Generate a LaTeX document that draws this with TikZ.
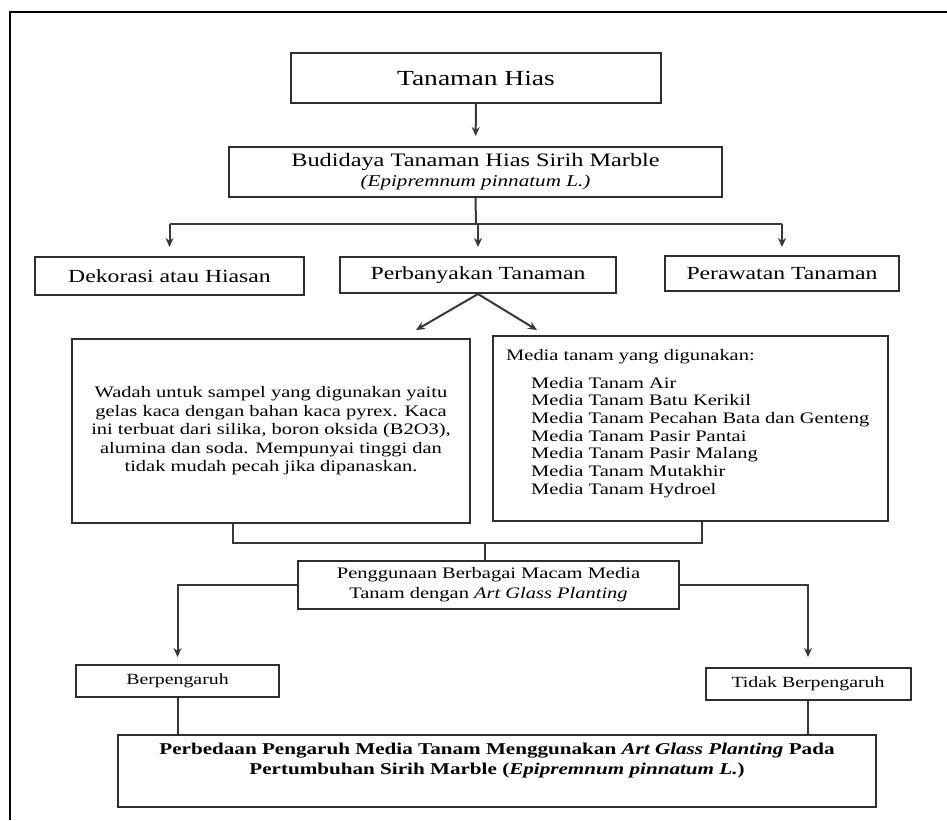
\documentclass[tikz,border=0pt]{standalone}
\usepackage{fontspec}
\setmainfont{Liberation Serif}[FakeStretch=1.28]
\usetikzlibrary{arrows.meta,calc}
\definecolor{boxc}{HTML}{2E2E2E}
\definecolor{linec}{HTML}{383838}
\begin{document}
\begin{tikzpicture}[x=1pt,y=-1pt,
  box/.style={draw=boxc,line width=2pt,inner sep=0pt,rectangle},
  conn/.style={draw=linec,line width=2pt},
  arr/.style={conn,-{Stealth[length=9pt,width=8pt]}},
  txt/.style={inner sep=0pt}]
\useasboundingbox (0,0) rectangle (947,820);
\fill[white] (0,0) rectangle (947,820);
\draw[line width=2.5pt,black] (947,12) -- (10,12) -- (10,820);

% top
\node[box,minimum width=370,minimum height=50,font=\fontsize{21.5}{25}\selectfont] (hias) at (476,78)
  {Tanaman Hias};
\node[box,minimum width=493,minimum height=50,align=center,font=\fontsize{19}{20}\selectfont] (budi) at (475.5,172)
  {Budidaya Tanaman Hias Sirih Marble\\
   {\fontsize{16.5}{20}\selectfont\itshape (Epipremnum pinnatum L.)}};
\draw[arr,shorten >=10pt] (hias.south) -- (budi.north);

% row
\tikzset{rowtxt/.style={font=\fontsize{18.5}{20}\selectfont}}
\node[box,rowtxt,minimum width=269,minimum height=38] (dek) at (169.5,276)
  {Dekorasi atau Hiasan};
\node[box,rowtxt,minimum width=276,minimum height=36] (perb) at (478,275)
  {Perbanyakan Tanaman};
\node[box,rowtxt,minimum width=234,minimum height=35] (peraw) at (782,273.5)
  {Perawatan Tanaman};
\coordinate (h) at (476,224);
\draw[conn] (budi.south) -- (h);
\draw[conn] (dek.north |- h) -- (peraw.north |- h);
\draw[arr,shorten >=9pt] (dek.north |- h) -- (dek.north);
\draw[arr,shorten >=9pt] (perb.north |- h) -- (perb.north);
\draw[arr,shorten >=8pt] (peraw.north |- h) -- (peraw.north);

% diagonals
\coordinate (d1) at (416,330);
\coordinate (d2) at (537,330);
\draw[arr] (perb.south) -- (d1);
\draw[arr] (perb.south) -- (d2);

% wadah & media
\node[box,minimum width=398,minimum height=184,align=center,font=\fontsize{16}{18.5}\selectfont] (wadah) at (271,431)
  {Wadah untuk sampel yang digunakan yaitu\\
   gelas kaca dengan bahan kaca pyrex. Kaca\\
   ini terbuat dari silika, boron oksida (B2O3),\\
   alumina dan soda. Mempunyai tinggi dan\\
   tidak mudah pecah jika dipanaskan.};
\node[box,minimum width=395,minimum height=185] (media) at (690.5,428.5) {};
\node[txt,anchor=north west,align=left,font=\fontsize{16}{17.7}\selectfont] (mediatxt) at (506,349)
  {Media tanam yang digunakan:\\[10pt]
   \hspace*{25pt}Media Tanam Air\\
   \hspace*{25pt}Media Tanam Batu Kerikil\\
   \hspace*{25pt}Media Tanam Pecahan Bata dan Genteng\\
   \hspace*{25pt}Media Tanam Pasir Pantai\\
   \hspace*{25pt}Media Tanam Pasir Malang\\
   \hspace*{25pt}Media Tanam Mutakhir\\
   \hspace*{25pt}Media Tanam Hydroel};

% penggunaan
\node[box,minimum width=381,minimum height=48,align=center,font=\fontsize{16}{20}\selectfont] (peng) at (488.5,585)
  {Penggunaan Berbagai Macam Media\\
   Tanam dengan \textit{Art Glass Planting}};
\coordinate (j1) at (233,543);
\coordinate (j2) at (702,543);
\coordinate (jm) at (485,543);
\draw[conn] (wadah.south -| j1) -- (j1) -- (j2) -- (media.south -| j2);
\draw[conn] (jm) -- (jm |- peng.north);

% outcomes
\node[box,minimum width=203,minimum height=32,font=\fontsize{15.5}{18}\selectfont] (ber) at (177.5,681)
  {Berpengaruh};
\node[box,minimum width=205,minimum height=32,font=\fontsize{15.5}{18}\selectfont] (tidak) at (808,684)
  {Tidak Berpengaruh};
\draw[arr,shorten >=7pt] (peng.west) -| (ber.north);
\draw[arr,shorten >=10pt] (peng.east) -| (tidak.north);

% final
\node[box,minimum width=758,minimum height=72] (final) at (497,771) {};
\node[txt,align=center,font=\fontsize{16.5}{20}\selectfont\bfseries] (finaltxt) at (497,761)
  {Perbedaan Pengaruh Media Tanam Menggunakan \textit{Art Glass Planting} Pada\\
   Pertumbuhan Sirih Marble (\textit{Epipremnum pinnatum L.})};
\draw[conn] (ber.south) -- (ber.south |- final.north);
\draw[conn] (tidak.south) -- (tidak.south |- final.north);
\end{tikzpicture}
\end{document}
